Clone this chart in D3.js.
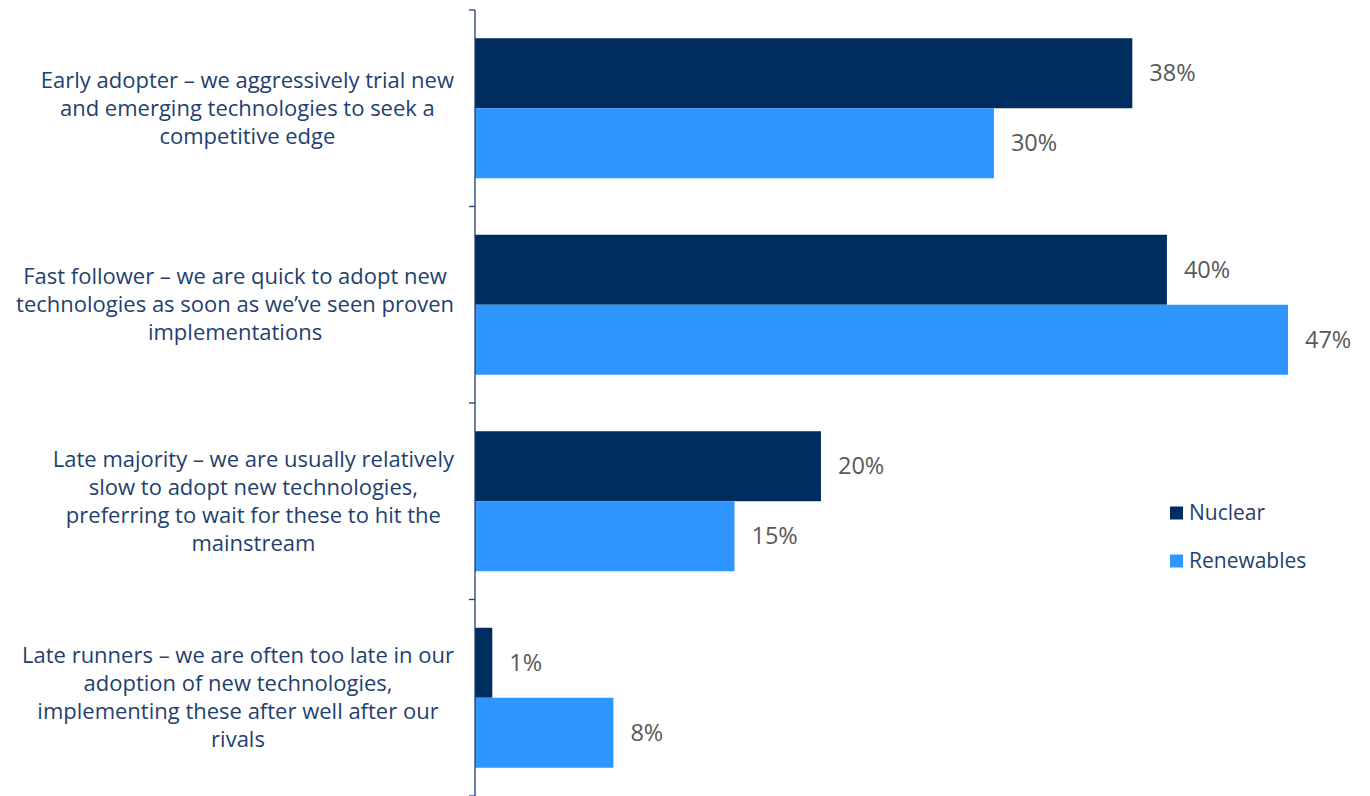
<!DOCTYPE html>
<html>
<head>
<meta charset="utf-8">
<script src="https://cdn.jsdelivr.net/npm/d3@7"></script>
<style>
  html, body { margin: 0; padding: 0; background: #ffffff; }
  svg { display: block; }
  text { font-family: "Open Sans", "Noto Sans", sans-serif; }
</style>
</head>
<body>
<svg id="chart" width="1370" height="796"></svg>
<script>
// Survey categories (each label split into its display lines)
const categories = [
  "Early adopter",
  "Fast follower",
  "Late majority",
  "Late runners"
];
const categoryLines = [
  ["Early adopter – we aggressively trial new", "and emerging technologies to seek a", "competitive edge"],
  ["Fast follower – we are quick to adopt new", "technologies as soon as we’ve seen proven", "implementations"],
  ["Late majority – we are usually relatively", "slow to adopt new technologies,", "preferring to wait for these to hit the", "mainstream"],
  ["Late runners – we are often too late in our", "adoption of new technologies,", "implementing these after well after our", "rivals"]
];
const seriesNames = ["Nuclear", "Renewables"];
const nuclear = [38, 40, 20, 1];
const renewables = [30, 47, 15, 8];
const colors = ["#002d5f", "#3096ff"];

const svg = d3.select("#chart");
const axisX = 475;

const x = d3.scaleLinear().domain([0, 47]).range([axisX, 1288]);
const y0 = d3.scaleBand().domain(categories).range([10, 796]).padding(0);
const y1 = d3.scaleBand().domain(seriesNames).range([28.25, y0.bandwidth() - 28.25]).padding(0);

const rows = categories.map((c, i) => ({
  cat: c,
  values: [
    { key: "Nuclear", value: nuclear[i] },
    { key: "Renewables", value: renewables[i] }
  ]
}));

// Bars
const groups = svg.append("g").selectAll("g")
  .data(rows).join("g")
  .attr("transform", d => `translate(0,${y0(d.cat)})`);

groups.selectAll("rect")
  .data(d => d.values).join("rect")
  .attr("x", x(0))
  .attr("y", d => y1(d.key))
  .attr("width", d => x(d.value) - x(0))
  .attr("height", y1.bandwidth())
  .attr("fill", (d, i) => colors[i]);

// Value labels
groups.selectAll("text.val")
  .data(d => d.values).join("text")
  .attr("class", "val")
  .attr("x", d => x(d.value) + 17)
  .attr("y", d => y1(d.key) + y1.bandwidth() / 2)
  .attr("dy", "0.35em")
  .attr("fill", "#595959")
  .attr("font-size", 23.5)
  .text(d => d.value + "%");

// Category axis: line with ticks at band edges
const axis = svg.append("g").attr("stroke", "#1f3f6e").attr("stroke-width", 1.3);
axis.append("line")
  .attr("x1", axisX).attr("x2", axisX)
  .attr("y1", y0.range()[0]).attr("y2", y0.range()[1]);
const edges = categories.map(c => y0(c)).concat([y0.range()[1]]);
axis.selectAll("line.tick")
  .data(edges).join("line")
  .attr("class", "tick")
  .attr("x1", axisX - 6).attr("x2", axisX)
  .attr("y1", d => d).attr("y2", d => d);

// Category labels: lines centered within a block whose right edge sits near the axis
const lineH = 28;
const labelRight = 454;
svg.append("g").selectAll("text")
  .data(categories).join("text")
  .attr("text-anchor", "middle")
  .attr("fill", "#1f3f6e")
  .attr("font-size", 22)
  .each(function(c, i) {
    const lines = categoryLines[i];
    const cy = y0(c) + y0.bandwidth() / 2;
    const startY = cy - (lines.length - 1) * lineH / 2;
    const spans = d3.select(this).selectAll("tspan")
      .data(lines).join("tspan")
      .attr("y", (l, j) => startY + j * lineH)
      .attr("dy", "0.35em")
      .text(l => l);
    const maxW = d3.max(spans.nodes(), n => n.getComputedTextLength());
    spans.attr("x", labelRight - maxW / 2);
  });

// Legend
const legend = svg.append("g").selectAll("g")
  .data(seriesNames).join("g")
  .attr("transform", (d, i) => `translate(1170,${513 + i * 48})`);
legend.append("rect")
  .attr("x", 0).attr("y", -6.5)
  .attr("width", 13).attr("height", 13)
  .attr("fill", (d, i) => colors[i]);
legend.append("text")
  .attr("x", 19).attr("y", 0).attr("dy", "0.35em")
  .attr("fill", "#1f3f6e")
  .attr("font-size", 21)
  .text(d => d);
</script>
</body>
</html>
